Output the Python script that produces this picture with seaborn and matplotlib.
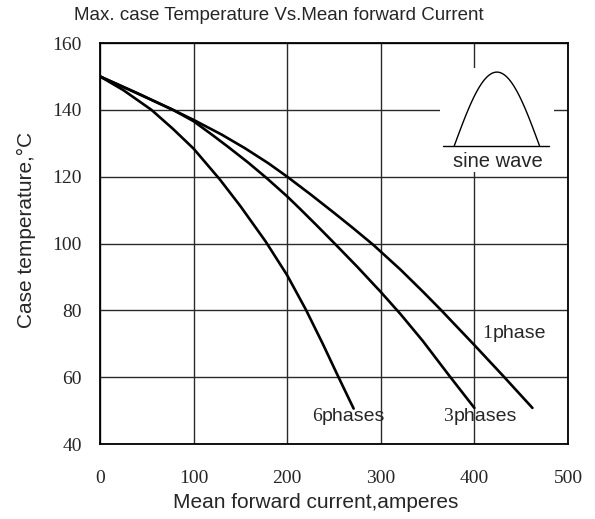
import numpy as np
import pandas as pd
import matplotlib
matplotlib.use("Agg")
import matplotlib.pyplot as plt
from matplotlib.patches import Rectangle
import seaborn as sns

# curves (current in A, case temperature in C)
x_1phase = [0, 40, 78, 100, 130, 155, 180, 200, 225, 250, 270, 292, 321, 345, 364, 400, 430, 462]
y_1phase = [150, 145, 140, 137.0, 132.6, 128.5, 124.0, 120.0, 114.7, 109.2, 104.7, 99.6,
            92.2, 85.6, 80.2, 69.6, 60.6, 50.8]

x_3phases = [0, 40, 78, 100, 120, 137, 158, 178, 200, 214, 232, 250, 275, 300, 321, 345, 373, 400]
y_3phases = [150, 144.9, 140, 136.6, 132.5, 128.9, 124.3, 119.6, 114.1, 110.3, 105.3, 100.2,
             93.0, 85.5, 78.9, 70.8, 60.5, 50.8]

x_6phases = [0, 25, 55, 78, 100, 128, 150, 177, 200, 220, 238, 254, 271]
y_6phases = [150, 145.9, 140, 134.3, 128.4, 119.2, 111.2, 100.6, 90.5, 80.2, 70, 60.5, 50.6]

x_ticks = [0, 100, 200, 300, 400, 500]
y_ticks = [40, 60, 80, 100, 120, 140, 160]

frames = []
for name, xs, ys in [("1phase", x_1phase, y_1phase),
                     ("3phases", x_3phases, y_3phases),
                     ("6phases", x_6phases, y_6phases)]:
    frames.append(pd.DataFrame({"current": xs, "temp": ys, "curve": name}))
df = pd.concat(frames, ignore_index=True)

sns.set_style("white")
plt.rcParams["font.family"] = ["Liberation Sans", "DejaVu Sans"]

fig = plt.figure(figsize=(5.95, 5.19), dpi=100)
ax = fig.add_axes([0.168, 0.1445, 0.7866, 0.7726])

sns.lineplot(data=df, x="current", y="temp", hue="curve", units="curve",
             estimator=None, sort=False, palette=["black"] * 3,
             linewidth=1.9, legend=False, ax=ax, zorder=3)

ax.set_xlim(0, 500)
ax.set_ylim(40, 160)
ax.set_xticks(x_ticks)
ax.set_yticks(y_ticks)
ax.grid(True, color="#2a2a2a", linewidth=1.0)
ax.set_axisbelow(True)
for sp in ax.spines.values():
    sp.set_color("black")
    sp.set_linewidth(1.3)

serif = ["Liberation Serif", "DejaVu Serif"]
ax.tick_params(axis="both", length=0, labelsize=14)
ax.tick_params(axis="x", pad=19)
ax.tick_params(axis="y", pad=13)
for lab in ax.get_xticklabels() + ax.get_yticklabels():
    lab.set_family(serif)

ax.set_xlabel("Mean forward current,amperes", fontsize=15)
ax.set_ylabel("Case temperature,°C", fontsize=15)
ax.xaxis.set_label_coords(0.461, -0.147)
ax.xaxis.label.set_va("center")
ax.yaxis.set_label_coords(-0.158, 0.534)
ax.yaxis.label.set_va("center")

fig.text(279 / 595, 1 - 16 / 519, "Max. case Temperature Vs.Mean forward Current",
         ha="center", va="center", fontsize=13.5)

# inset: blank box with sine-wave glyph
ax.add_patch(Rectangle((363.6, 121.5), 121, 31, facecolor="white",
                       edgecolor="none", zorder=2))
ax.plot([366.8, 480.2], [129.3, 129.3], color="black", linewidth=1.0, zorder=4)
t = np.linspace(0, np.pi, 100)
ax.plot(378.6 + (469.5 - 378.6) * t / np.pi, 129.3 + 22 * np.sin(t),
        color="black", linewidth=1.0, zorder=4)
ax.text(424.6, 124.6, "sine wave", ha="center", va="center", fontsize=14.5, zorder=4)

# curve labels: serif digit + sans word
labels = [("1", "phase", 408.5, 73.1), ("6", "phases", 226.4, 48.1), ("3", "phases", 367, 48.1)]
for digit, word, lx, ly in labels:
    d = ax.text(lx, ly, digit, ha="left", va="center", fontsize=14, family=serif, zorder=4)
    ax.annotate(word, xy=(1, 0.5), xycoords=d, xytext=(0, 0), textcoords="offset points",
                ha="left", va="center", fontsize=14, zorder=4)

fig.savefig("out.png", dpi=100)
